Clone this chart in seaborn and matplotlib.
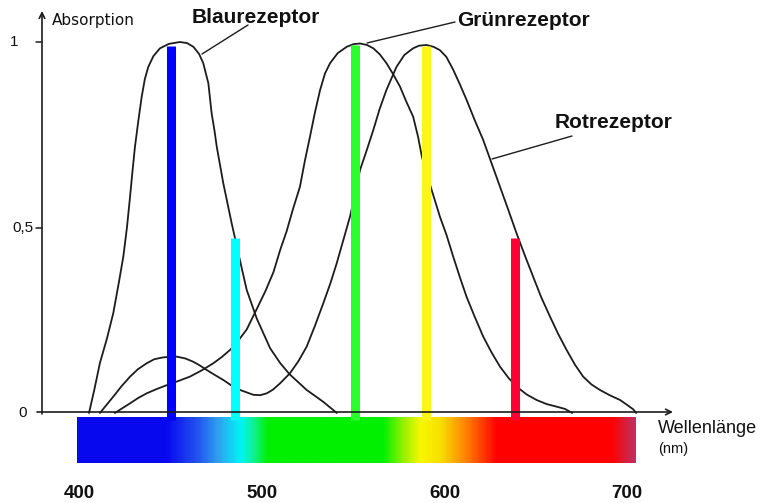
import numpy as np
import pandas as pd
import matplotlib
matplotlib.use("Agg")
import matplotlib.pyplot as plt
import seaborn as sns
from matplotlib.colors import LinearSegmentedColormap

# ---------------- data (wavelength in nm, relative absorption) ----------------
blue_nm = [405.2, 408, 411.2, 415, 418.5, 421.5, 424, 426, 427.7, 429, 430.4, 432.3,
           434.1, 435.8, 437.7, 440.5, 444.1, 449, 455, 459, 462.4, 465.5, 467.8,
           470.6, 472.4, 474, 475.2, 478.8, 483.4, 487.9, 491.6, 497.1, 504.4, 509.9,
           515, 524.5, 533.6, 541]
blue_abs = [0.0, 0.06, 0.135, 0.2, 0.269, 0.35, 0.421, 0.5, 0.583, 0.65, 0.718, 0.79,
            0.853, 0.9, 0.933, 0.962, 0.983, 0.995, 1.0, 0.997, 0.987, 0.968, 0.943,
            0.889, 0.808, 0.76, 0.718, 0.619, 0.511, 0.412, 0.332, 0.255, 0.175, 0.135,
            0.105, 0.062, 0.030, 0.0]

green_nm = [419.4, 423.5, 427.7, 432, 436.8, 442, 447.8, 454, 460.5, 467, 473.3, 478,
            482.5, 487, 491.6, 497.1, 502, 506.3, 510, 513.5, 517, 520.8, 523.5, 526.3,
            529, 531.8, 534.5, 537.3, 541.5, 546.4, 550, 553.7, 557.5, 561, 564.5, 568.2,
            572, 575.6, 579, 582.8, 585.5, 587.6, 590.5, 593.8, 597.5, 601.1, 604.8,
            608.5, 612.1, 616.5, 621.2, 625.8, 630.4, 635, 639.5, 645, 650.5, 656,
            661.5, 666, 670]
green_abs = [0.0, 0.013, 0.026, 0.04, 0.053, 0.064, 0.075, 0.086, 0.098, 0.115, 0.134,
             0.151, 0.17, 0.195, 0.225, 0.28, 0.33, 0.38, 0.44, 0.49, 0.55, 0.61, 0.68,
             0.745, 0.81, 0.87, 0.915, 0.943, 0.97, 0.987, 0.994, 0.996, 0.992, 0.983,
             0.967, 0.943, 0.912, 0.88, 0.84, 0.799, 0.745, 0.691, 0.64, 0.588, 0.529,
             0.48, 0.421, 0.365, 0.313, 0.26, 0.206, 0.163, 0.125, 0.095, 0.071, 0.05,
             0.035, 0.024, 0.017, 0.011, 0.0]

red_nm = [411.2, 414.5, 418.5, 423, 427.7, 432, 436.8, 441, 445.9, 453.2, 458, 462.4,
          466, 469.7, 474, 478.8, 483, 488, 495.3, 499, 502.6, 506, 509.9, 515.3, 520,
          524.5, 529, 533.6, 537.5, 540.9, 544.5, 548.2, 551, 553.7, 557.5, 561, 564.5,
          568.2, 573.7, 578, 582.8, 586, 590.1, 594, 597.5, 601, 604.8, 608.5, 612.1,
          616.5, 621.2, 625.8, 630.4, 635, 639.5, 644, 648.6, 653, 657.8, 662.3, 666.9,
          671.5, 676, 680.5, 685.2, 690.5, 696.2, 700, 703.4, 705]
red_abs = [0.0, 0.02, 0.044, 0.072, 0.098, 0.118, 0.134, 0.145, 0.15, 0.152, 0.147,
           0.138, 0.128, 0.116, 0.103, 0.089, 0.075, 0.062, 0.049, 0.048, 0.053, 0.063,
           0.08, 0.107, 0.14, 0.179, 0.235, 0.296, 0.35, 0.403, 0.465, 0.529, 0.59,
           0.655, 0.71, 0.763, 0.82, 0.871, 0.933, 0.965, 0.983, 0.99, 0.992, 0.987,
           0.978, 0.96, 0.925, 0.885, 0.844, 0.79, 0.736, 0.673, 0.61, 0.547, 0.484,
           0.425, 0.367, 0.312, 0.26, 0.213, 0.17, 0.13, 0.098, 0.077, 0.062, 0.048,
           0.035, 0.022, 0.01, 0.0]

receptor_names = ["Blaurezeptor", "Grünrezeptor", "Rotrezeptor"]

bar_nm = [450, 485, 550.7, 590, 638.4]
bar_abs = [0.989, 0.4725, 0.992, 0.989, 0.4725]
bar_colors = ["#0000FF", "#00FFFF", "#2BFF2B", "#FFF519", "#FF0033"]

x_ticks = [400, 500, 600, 700]
x_tick_labels = ["400", "500", "600", "700"]
y_ticks = [0, 0.5, 1]
y_tick_labels = ["0", "0,5", "1"]

spectrum_nm = [398.5, 446.8, 465, 475.3, 487.9, 495, 502.7, 566.3, 577, 586.6, 597.5,
               612, 628.8, 691.8, 704.4]
spectrum_colors = ["#0808EE", "#0808EE", "#2458F0", "#30A0F0", "#00F5F5", "#10F090",
                   "#00F000", "#00F000", "#90F000", "#F8F800", "#F8E000", "#FF8000",
                   "#FF0000", "#FF0000", "#C03060"]

# ---------------- layout helpers (pixel -> data) ----------------
W, H = 763, 503
PX_PER_NM, PX_OFF = 1.825, -650.5
Y0_PX, Y1_PX = 413.0, 42.0


def fx(px):
    return (px - PX_OFF) / PX_PER_NM


def fy(py):
    return (Y0_PX - py) / (Y0_PX - Y1_PX)


sns.set_theme(style="white")
plt.rcParams["font.family"] = ["Liberation Sans", "DejaVu Sans"]

fig = plt.figure(figsize=(W / 100, H / 100), dpi=100)
ax = fig.add_axes([0, 0, 1, 1])
ax.set_xlim(fx(0), fx(W))
ax.set_ylim(fy(H), fy(0))
ax.axis("off")

# spectrum strip
grad = np.linspace(spectrum_nm[0], spectrum_nm[-1], 600)
pos = [(v - spectrum_nm[0]) / (spectrum_nm[-1] - spectrum_nm[0]) for v in spectrum_nm]
cmap = LinearSegmentedColormap.from_list("spec", list(zip(pos, spectrum_colors)))
ax.imshow(grad[np.newaxis, :], cmap=cmap, aspect="auto", interpolation="bilinear",
          extent=(spectrum_nm[0], spectrum_nm[-1], fy(463.3), fy(417.3)), zorder=1)

# absorption curves
df = pd.concat([
    pd.DataFrame({"nm": blue_nm, "abs": blue_abs, "rezeptor": receptor_names[0]}),
    pd.DataFrame({"nm": green_nm, "abs": green_abs, "rezeptor": receptor_names[1]}),
    pd.DataFrame({"nm": red_nm, "abs": red_abs, "rezeptor": receptor_names[2]}),
])
sns.lineplot(data=df, x="nm", y="abs", hue="rezeptor", units="rezeptor",
             estimator=None, sort=False, palette=["#1c1c1c"] * 3, legend=False,
             linewidth=1.3, ax=ax, zorder=2)

# coloured wavelength bars
ax.vlines(bar_nm, fy(420), bar_abs, colors=bar_colors, linewidth=6.5, zorder=3)

# axes with arrows
axis_kw = dict(arrowstyle="->", color="#1c1c1c", lw=1.2, mutation_scale=10,
               shrinkA=0, shrinkB=0)
ax.annotate("", xy=(fx(42), fy(11)), xytext=(fx(42), fy(414)), arrowprops=axis_kw, zorder=4)
ax.annotate("", xy=(fx(673), fy(412)), xytext=(fx(37), fy(412)), arrowprops=axis_kw, zorder=4)
for v in [0.5, 1]:
    ax.plot([fx(36), fx(42)], [v, v], color="#1c1c1c", lw=1.1, zorder=4)

# y tick labels
for v, lab in zip(y_ticks, y_tick_labels):
    xc = fx(14) if lab == "1" else fx(22.5)
    ax.text(xc, v, lab, ha="center", va="center", fontsize=11, color="#111111")

# x tick labels (bold, below spectrum)
for v, lab in zip(x_ticks, x_tick_labels):
    ax.text(v, fy(498), lab, ha="center", va="baseline", fontsize=13.5,
            fontweight="bold", color="#111111")

# axis titles
ax.text(fx(51.7), fy(25), "Absorption", ha="left", va="baseline", fontsize=11,
        family=["DejaVu Sans"], color="#111111")
ax.text(fx(658.3), fy(433.3), "Wellenlänge", ha="left", va="baseline", fontsize=13,
        color="#111111")
ax.text(fx(658.3), fy(452.5), "(nm)", ha="left", va="baseline", fontsize=10.5,
        color="#111111")

# receptor labels with leader lines
label_kw = dict(ha="left", va="baseline", fontsize=15, fontweight="bold", color="#111111")
ax.text(fx(191.7), fy(23.3), receptor_names[0], **label_kw)
ax.text(fx(456.7), fy(26), receptor_names[1], **label_kw)
ax.text(fx(555), fy(128.3), receptor_names[2], **label_kw)
for (x0, y0, x1, y1) in [(202, 54, 248, 25), (367, 43, 455, 22), (492, 159, 572, 136)]:
    ax.plot([fx(x0), fx(x1)], [fy(y0), fy(y1)], color="#1c1c1c", lw=1.0, zorder=4)

fig.savefig("out.png", dpi=100)
